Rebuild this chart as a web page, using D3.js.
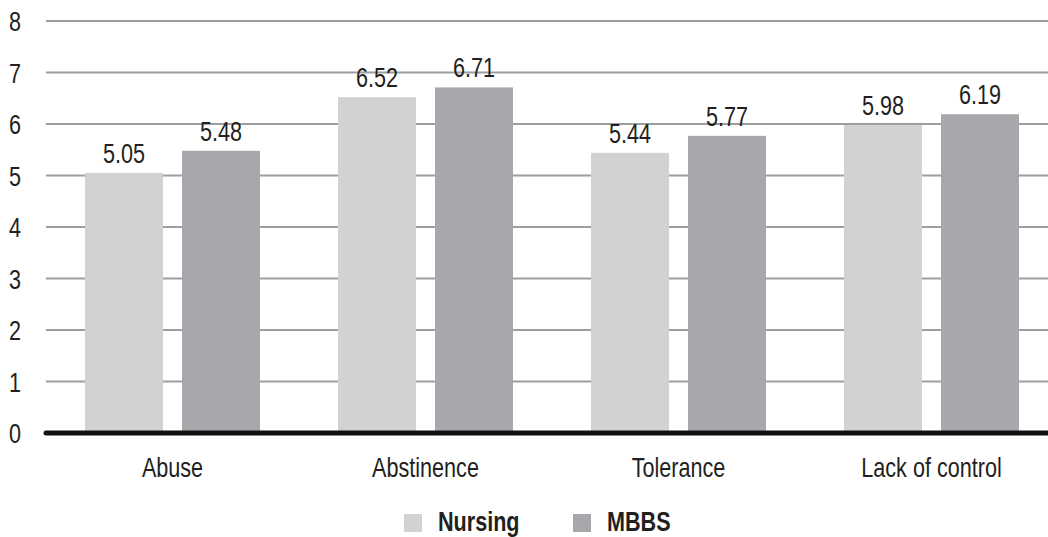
<!DOCTYPE html>
<html>
<head>
<meta charset="utf-8">
<script src="https://cdn.jsdelivr.net/npm/d3@7"></script>
<style>
  html, body { margin: 0; padding: 0; background: #fff; }
  svg { display: block; }
  text { font-family: "Liberation Sans", Arial, sans-serif; fill: #231f20; }
</style>
</head>
<body>
<svg id="chart" width="1048" height="537"></svg>
<script>
const categories = ["Abuse", "Abstinence", "Tolerance", "Lack of control"];
const seriesNames = ["Nursing", "MBBS"];
const nursing = [5.05, 6.52, 5.44, 5.98];
const mbbs = [5.48, 6.71, 5.77, 6.19];
const yTicks = [0, 1, 2, 3, 4, 5, 6, 7, 8];
const colors = ["#d1d2d4", "#a7a8ab"];

const W = 1048, H = 537;
const FONT = "27px";
const NARROW = 0.8; // horizontal squeeze for a condensed face
const svg = d3.select("#chart");

// place a text at (x, y), squeezed horizontally around its anchor
function at(x, yy) { return `translate(${x},${yy}) scale(${NARROW},1)`; }

const x0 = d3.scaleBand().domain(categories).range([46, 1058]).paddingInner(0).paddingOuter(0);
const x1 = d3.scaleBand().domain(seriesNames).range([39, x0.bandwidth() - 39]).paddingInner(0.196);
const y = d3.scaleLinear().domain([0, 8]).range([433, 21]);

const rows = categories.map((c, i) => ({ cat: c, vals: [nursing[i], mbbs[i]] }));

// horizontal gridlines
svg.append("g")
  .selectAll("line")
  .data(yTicks.filter(d => d > 0))
  .join("line")
  .attr("x1", 46).attr("x2", W)
  .attr("y1", d => y(d)).attr("y2", d => y(d))
  .attr("stroke", "#9d9ea1").attr("stroke-width", 2);

// y tick labels
svg.append("g")
  .selectAll("text")
  .data(yTicks)
  .join("text")
  .attr("transform", d => at(15, y(d) + 10))
  .attr("text-anchor", "middle")
  .style("font-size", FONT)
  .text(d => d);

// bars
const groups = svg.append("g")
  .selectAll("g")
  .data(rows)
  .join("g")
  .attr("transform", d => `translate(${x0(d.cat)},0)`);

groups.selectAll("rect")
  .data(d => d.vals.map((v, j) => ({ name: seriesNames[j], v, j })))
  .join("rect")
  .attr("x", d => x1(d.name))
  .attr("width", x1.bandwidth())
  .attr("y", d => y(d.v))
  .attr("height", d => y(0) - y(d.v))
  .attr("fill", d => colors[d.j]);

// value labels
groups.selectAll("text")
  .data(d => d.vals.map((v, j) => ({ name: seriesNames[j], v, j })))
  .join("text")
  .attr("transform", d => at(x1(d.name) + x1.bandwidth() / 2, y(d.v) - 10))
  .attr("text-anchor", "middle")
  .style("font-size", FONT)
  .text(d => d.v.toFixed(2));

// baseline
svg.append("line")
  .attr("x1", 46).attr("x2", W + 4)
  .attr("y1", y(0)).attr("y2", y(0))
  .attr("stroke", "#111").attr("stroke-width", 5)
  .attr("stroke-linecap", "round");

// category labels
svg.append("g")
  .selectAll("text")
  .data(categories)
  .join("text")
  .attr("transform", d => at(x0(d) + x0.bandwidth() / 2, 477))
  .attr("text-anchor", "middle")
  .style("font-size", FONT)
  .text(d => d);

// legend
const legend = svg.append("g").attr("transform", "translate(404,514)");
const items = legend.selectAll("g")
  .data(seriesNames)
  .join("g")
  .attr("transform", (d, i) => `translate(${i * 169},0)`);
items.append("rect")
  .attr("x", 0).attr("y", 0).attr("width", 18).attr("height", 18)
  .attr("fill", (d, i) => colors[i]);
items.append("text")
  .attr("transform", at(34, 17))
  .style("font-size", FONT).style("font-weight", "bold")
  .text(d => d);
</script>
</body>
</html>
